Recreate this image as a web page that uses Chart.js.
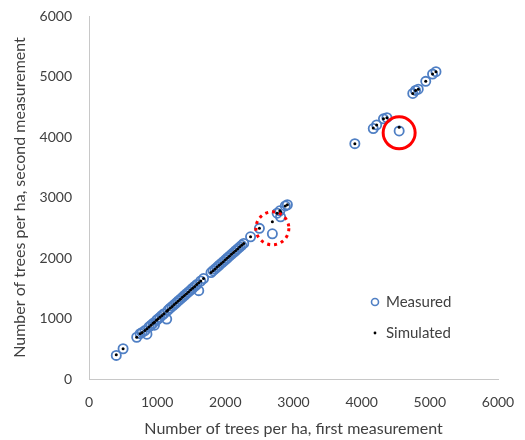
<!DOCTYPE html>
<html lang="en">
<head>
<meta charset="UTF-8">
<title>Number of trees per ha</title>
<script src="https://cdn.jsdelivr.net/npm/chart.js"></script>
<style>
    body { margin: 0; background: #fff; }
    .chart-box { width: 525px; height: 440px; position: relative; }
</style>
</head>
<body>
<div class="chart-box"><canvas id="treesChart"></canvas></div>
<script>
// trees per ha at first measurement (x), and second measurement: measured / simulated
const firstMeasurement = [
    400, 500, 700, 750, 780, 820, 850, 880, 910, 940,
    960, 990, 1010, 1040, 1070, 1100, 1140, 1160, 1190, 1220,
    1250, 1280, 1310, 1340, 1370, 1400, 1430, 1460, 1490, 1520,
    1550, 1580, 1610, 1640, 1680, 1790, 1820, 1850, 1880, 1910,
    1940, 1970, 2000, 2030, 2060, 2090, 2120, 2150, 2180, 2210,
    2240, 2270, 2370, 2500, 2690, 2760, 2800, 2810, 2880, 2910,
    3900, 4170, 4220, 4320, 4370, 4550, 4750, 4790, 4830, 4940,
    5040, 5090
];
const measuredSecond = [
    390, 500, 690, 750, 770, 800, 740, 860, 890, 920,
    890, 970, 990, 1020, 1050, 1080, 990, 1140, 1170, 1200,
    1230, 1260, 1290, 1320, 1350, 1380, 1410, 1440, 1470, 1500,
    1530, 1560, 1460, 1620, 1660, 1760, 1790, 1820, 1850, 1880,
    1910, 1940, 1970, 2000, 2030, 2060, 2090, 2120, 2150, 2180,
    2210, 2240, 2350, 2490, 2400, 2740, 2780, 2680, 2860, 2880,
    3890, 4140, 4200, 4300, 4320, 4100, 4720, 4770, 4790, 4920,
    5040, 5080
];
const simulatedSecond = [
    400, 500, 690, 750, 770, 800, 830, 860, 890, 920,
    940, 970, 990, 1020, 1050, 1080, 1120, 1140, 1170, 1200,
    1230, 1260, 1290, 1320, 1350, 1380, 1410, 1440, 1470, 1500,
    1530, 1560, 1590, 1620, 1660, 1760, 1790, 1820, 1850, 1880,
    1910, 1940, 1970, 2000, 2030, 2060, 2090, 2120, 2150, 2180,
    2210, 2240, 2350, 2490, 2600, 2740, 2780, 2760, 2860, 2880,
    3890, 4150, 4200, 4300, 4320, 4160, 4720, 4770, 4790, 4920,
    5040, 5080
];
const axisTicks = [0, 1000, 2000, 3000, 4000, 5000, 6000];

// highlighted cases (data units), drawn as red rings
const rings = [
    { x: 4550, y: 4070, r: 16, dash: [] },
    { x: 2690, y: 2490, r: 16.5, dash: [3, 4] }
];

const textColor = '#404040';
const font = 'Lato';

function toPoints(xs, ys) {
    return xs.map((x, i) => ({ x: x, y: ys[i] }));
}

const ringPlugin = {
    id: 'rings',
    afterDatasetsDraw(chart) {
        const ctx = chart.ctx;
        const sx = chart.scales.x, sy = chart.scales.y;
        ctx.save();
        ctx.strokeStyle = '#ff0000';
        ctx.lineWidth = 3;
        rings.forEach(r => {
            ctx.setLineDash(r.dash);
            ctx.beginPath();
            ctx.arc(sx.getPixelForValue(r.x), sy.getPixelForValue(r.y), r.r, 0, Math.PI * 2);
            ctx.stroke();
        });
        ctx.restore();
    }
};

// legend sits inside the plot area, lower right
const insideLegend = {
    id: 'insideLegend',
    afterDraw(chart) {
        const ctx = chart.ctx;
        const area = chart.chartArea;
        const mx = area.left + 286;
        const rows = [area.top + 286, area.top + 317];
        ctx.save();
        ctx.font = '15px ' + font;
        ctx.fillStyle = textColor;
        ctx.textBaseline = 'middle';
        chart.data.datasets.forEach(ds => {
            const y = ds.label === 'Measured' ? rows[0] : rows[1];
            ctx.beginPath();
            ctx.arc(mx, y, ds.label === 'Measured' ? 3.5 : 1.4, 0, Math.PI * 2);
            if (ds.label === 'Measured') {
                ctx.strokeStyle = ds.borderColor;
                ctx.lineWidth = 1.6;
                ctx.stroke();
            } else {
                ctx.fillStyle = '#000';
                ctx.fill();
                ctx.fillStyle = textColor;
            }
            ctx.fillText(ds.label, mx + 11, y);
        });
        ctx.restore();
    }
};

const plainTick = v => String(v);

new Chart(document.getElementById('treesChart'), {
    type: 'scatter',
    data: {
        datasets: [{
            label: 'Measured',
            data: toPoints(firstMeasurement, measuredSecond),
            pointRadius: 4.6,
            pointHoverRadius: 4.6,
            borderWidth: 1.8,
            borderColor: '#4f7fc4',
            backgroundColor: 'rgba(0,0,0,0)',
            order: 2
        }, {
            label: 'Simulated',
            data: toPoints(firstMeasurement, simulatedSecond),
            pointRadius: 1.5,
            pointHoverRadius: 1.5,
            borderWidth: 0,
            backgroundColor: '#000',
            order: 1
        }]
    },
    plugins: [ringPlugin, insideLegend],
    options: {
        responsive: true,
        maintainAspectRatio: false,
        animation: false,
        layout: { padding: { left: 0, right: 27, top: 16, bottom: 0 } },
        plugins: {
            legend: { display: false },
            tooltip: { enabled: false }
        },
        scales: {
            x: {
                type: 'linear',
                min: 0,
                max: 6000,
                afterBuildTicks: scale => { scale.ticks = axisTicks.map(v => ({ value: v })); },
                afterFit: scale => { scale.height = 61; },
                grid: { display: false, drawTicks: true, tickLength: 12, tickColor: 'rgba(0,0,0,0)' },
                border: { display: true, color: '#c8c8c8', width: 1 },
                ticks: { color: textColor, font: { family: font, size: 14 }, padding: 3, maxRotation: 0, callback: plainTick },
                title: {
                    display: true,
                    text: 'Number of trees per ha, first measurement',
                    color: textColor,
                    font: { family: font, size: 16 },
                    padding: { top: 4, bottom: 2 }
                }
            },
            y: {
                type: 'linear',
                min: 0,
                max: 6000,
                afterBuildTicks: scale => { scale.ticks = axisTicks.map(v => ({ value: v })); },
                afterFit: scale => { scale.width = 89; },
                grid: { display: false, drawTicks: true, tickLength: 14, tickColor: 'rgba(0,0,0,0)' },
                border: { display: true, color: '#c8c8c8', width: 1 },
                ticks: { color: textColor, font: { family: font, size: 14 }, padding: 3, callback: plainTick },
                title: {
                    display: true,
                    text: 'Number of trees per ha, second measurement',
                    color: textColor,
                    font: { family: font, size: 16 },
                    padding: { top: 10, bottom: 4 }
                }
            }
        }
    }
});
</script>
</body>
</html>
